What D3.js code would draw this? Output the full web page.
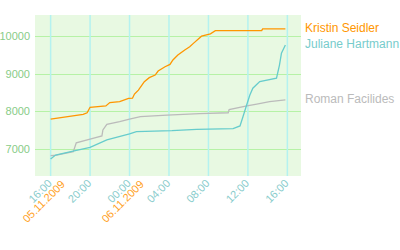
<!DOCTYPE html>
<meta charset="utf-8">
<style>
    body {
        margin: 0;
        background: #fff;
        font-family: "Liberation Sans", sans-serif;
    }

    .tick-y {
        fill: #88cc88;
        font-size: 11px;
        text-anchor: end;
    }

    .tick-x {
        fill: #88cccc;
        font-size: 11px;
        text-anchor: end;
    }

    .tick-date {
        fill: #ffa126;
        font-size: 11px;
        text-anchor: end;
    }

    .legend {
        font-size: 12px;
        dominant-baseline: middle;
    }
</style>

<body>
    <script src="https://cdn.jsdelivr.net/npm/d3@7"></script>

    <script>

        var seriesNames = ["Kristin Seidler", "Juliane Hartmann", "Roman Facilides"];
        var seriesColors = ["#ff9600", "#66cccc", "#bbbbbb"];
        var legendColors = ["#ff9600", "#77cccc", "#bbbbbb"];

        // [time, points]
        var kristin = [
            ["2009-11-05 16:00", 7790], ["2009-11-05 19:18", 7920], ["2009-11-05 19:42", 7960],
            ["2009-11-05 20:00", 8105], ["2009-11-05 21:36", 8140], ["2009-11-05 22:00", 8230],
            ["2009-11-05 23:00", 8255], ["2009-11-05 23:54", 8340], ["2009-11-06 00:18", 8345],
            ["2009-11-06 00:30", 8455], ["2009-11-06 00:54", 8560], ["2009-11-06 01:30", 8785],
            ["2009-11-06 02:00", 8890], ["2009-11-06 02:36", 8960], ["2009-11-06 02:54", 9065],
            ["2009-11-06 03:36", 9180], ["2009-11-06 04:06", 9240], ["2009-11-06 04:24", 9360],
            ["2009-11-06 04:54", 9490], ["2009-11-06 05:36", 9625], ["2009-11-06 06:06", 9710],
            ["2009-11-06 06:30", 9805], ["2009-11-06 07:18", 9990], ["2009-11-06 08:12", 10050],
            ["2009-11-06 08:42", 10135], ["2009-11-06 13:24", 10140], ["2009-11-06 13:30", 10180],
            ["2009-11-06 15:48", 10180]
        ];

        var juliane = [
            ["2009-11-05 16:00", 6735], ["2009-11-05 16:30", 6840], ["2009-11-05 18:30", 6955],
            ["2009-11-05 20:00", 7045], ["2009-11-05 21:42", 7240], ["2009-11-06 00:00", 7400],
            ["2009-11-06 00:42", 7460], ["2009-11-06 04:18", 7485], ["2009-11-06 06:48", 7520],
            ["2009-11-06 10:30", 7540], ["2009-11-06 11:12", 7610], ["2009-11-06 11:30", 7855],
            ["2009-11-06 11:48", 8105], ["2009-11-06 12:12", 8430], ["2009-11-06 12:30", 8610],
            ["2009-11-06 13:12", 8785], ["2009-11-06 14:54", 8875], ["2009-11-06 15:12", 9225],
            ["2009-11-06 15:24", 9535], ["2009-11-06 15:48", 9755]
        ];

        var roman = [
            ["2009-11-05 16:00", 6825], ["2009-11-05 16:36", 6840], ["2009-11-05 18:18", 6930],
            ["2009-11-05 18:36", 7165], ["2009-11-05 20:00", 7265], ["2009-11-05 21:12", 7345],
            ["2009-11-05 21:18", 7505], ["2009-11-05 21:42", 7655], ["2009-11-05 23:00", 7725],
            ["2009-11-06 00:00", 7790], ["2009-11-06 01:06", 7860], ["2009-11-06 03:48", 7900],
            ["2009-11-06 07:06", 7940], ["2009-11-06 10:00", 7960], ["2009-11-06 10:06", 8045],
            ["2009-11-06 11:54", 8140], ["2009-11-06 12:54", 8190], ["2009-11-06 14:12", 8255],
            ["2009-11-06 15:48", 8300]
        ];

        var yTicks = [7000, 8000, 9000, 10000];
        var timeDomain = ["2009-11-05 14:25", "2009-11-06 17:23"];
        var valueDomain = [6285, 10550];

        var parse = d3.timeParse("%Y-%m-%d %H:%M");
        var fmtTime = d3.timeFormat("%H:%M");
        var fmtDate = d3.timeFormat("%d.%m.%Y");

        var width = 400,
            height = 250,
            plotLeft = 35, plotRight = 301, plotTop = 15, plotBottom = 176;

        var x = d3.scaleTime()
            .domain(timeDomain.map(parse))
            .range([plotLeft, plotRight]);

        var y = d3.scaleLinear()
            .domain(valueDomain)
            .range([plotBottom, plotTop]);

        var svg = d3.select("body").append("svg")
            .attr("width", width)
            .attr("height", height);

        svg.append("rect")
            .attr("x", plotLeft).attr("y", plotTop)
            .attr("width", plotRight - plotLeft).attr("height", plotBottom - plotTop)
            .attr("fill", "#e8f9e2");

        var xTicks = x.ticks(d3.timeHour.every(4));

        // grid
        svg.selectAll("line.hgrid")
            .data(yTicks)
            .enter().append("line")
            .attr("class", "hgrid")
            .attr("x1", plotLeft).attr("x2", plotRight)
            .attr("y1", function (d) { return Math.round(y(d)) + 0.5; })
            .attr("y2", function (d) { return Math.round(y(d)) + 0.5; })
            .attr("stroke", "#b6f2a6")
            .attr("stroke-width", 1.2);

        svg.selectAll("line.vgrid")
            .data(xTicks)
            .enter().append("line")
            .attr("class", "vgrid")
            .attr("x1", function (d) { return x(d); })
            .attr("x2", function (d) { return x(d); })
            .attr("y1", plotTop).attr("y2", plotBottom)
            .attr("stroke", "#b4f2f0")
            .attr("stroke-width", 1.5);

        // y labels
        svg.selectAll("text.tick-y")
            .data(yTicks)
            .enter().append("text")
            .attr("class", "tick-y")
            .attr("x", plotLeft - 5)
            .attr("y", function (d) { return y(d) + 4; })
            .text(function (d) { return d; });

        // x labels
        svg.selectAll("text.tick-x")
            .data(xTicks)
            .enter().append("text")
            .attr("class", "tick-x")
            .attr("transform", function (d) { return "translate(" + (x(d) + 2) + "," + (plotBottom + 8) + ") rotate(-45)"; })
            .text(function (d) { return fmtTime(d); });

        var dateTicks = xTicks.filter(function (d, i) { return i === 0 || d.getHours() === 0; });

        svg.selectAll("text.tick-date")
            .data(dateTicks)
            .enter().append("text")
            .attr("class", "tick-date")
            .attr("transform", function (d) { return "translate(" + (x(d) + 15) + "," + (plotBottom + 9) + ") rotate(-45)"; })
            .text(function (d) { return fmtDate(d); });

        // lines
        var line = d3.line()
            .x(function (d) { return x(parse(d[0])); })
            .y(function (d) { return y(d[1]); });

        var allSeries = [kristin, juliane, roman];

        [2, 1, 0].forEach(function (i) {
            svg.append("path")
                .datum(allSeries[i])
                .attr("fill", "none")
                .attr("stroke", seriesColors[i])
                .attr("stroke-width", 1.3)
                .attr("d", line);
        });

        // legend at line ends
        svg.selectAll("text.legend")
            .data(seriesNames)
            .enter().append("text")
            .attr("class", "legend")
            .attr("x", 305)
            .attr("y", function (d, i) { var s = allSeries[i]; return y(s[s.length - 1][1]); })
            .attr("fill", function (d, i) { return legendColors[i]; })
            .text(function (d) { return d; });

    </script>

</body>
